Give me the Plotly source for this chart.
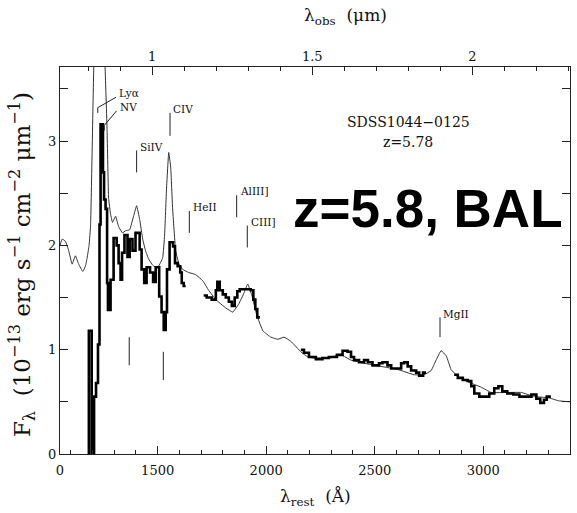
import plotly.graph_objects as go

z = 5.78

# composite (thin) spectrum
tmpl_wave = [1050, 1060, 1075, 1090, 1106, 1121, 1136, 1155, 1167, 1175,
             1184, 1191, 1206, 1227, 1257, 1267, 1274, 1283, 1292, 1306,
             1320, 1338, 1352, 1371, 1389, 1403, 1417, 1431, 1444, 1458,
             1477, 1491, 1504, 1523, 1532, 1541, 1551, 1560, 1569, 1583,
             1597, 1615, 1643, 1675, 1708, 1735, 1768, 1814, 1846, 1874,
             1897, 1915, 1934, 1957, 1985, 2022, 2054, 2082, 2114, 2160,
             2192, 2220, 2262, 2299, 2345, 2391, 2451, 2529, 2607, 2681,
             2728, 2760, 2783, 2806, 2830, 2852, 2885, 2931, 2991, 3037,
             3116, 3176, 3236, 3300, 3347, 3400]
tmpl_flux = [2.00, 2.06, 2.04, 1.95, 1.82, 1.90, 1.82, 1.75, 1.80, 1.88,
             2.00, 2.20, 3.75, 5.00, 3.75, 3.10, 2.45, 2.30, 2.22, 2.28,
             2.18, 2.12, 2.14, 2.15, 2.28, 2.38, 2.25, 2.06, 1.95, 1.87,
             1.81, 1.79, 1.80, 1.88, 2.10, 2.55, 2.89, 2.75, 2.35, 1.95,
             1.83, 1.77, 1.74, 1.72, 1.66, 1.57, 1.48, 1.40, 1.36, 1.44,
             1.54, 1.63, 1.52, 1.33, 1.18, 1.12, 1.10, 1.12, 1.08, 0.98,
             0.93, 0.92, 0.92, 0.93, 0.95, 0.90, 0.87, 0.84, 0.81, 0.76,
             0.76, 0.80, 0.90, 0.99, 0.94, 0.81, 0.74, 0.69, 0.64, 0.59,
             0.59, 0.59, 0.55, 0.54, 0.51, 0.50]

# observed (thick, binned) spectrum, four segments
obs_wave_1 = [1178, 1183, 1196, 1207, 1216, 1225, 1232, 1237, 1248, 1253,
              1260, 1267, 1271, 1283, 1297, 1311, 1320, 1329, 1336, 1347,
              1361, 1371, 1384, 1398, 1417, 1426, 1438, 1449, 1465, 1479,
              1491, 1507, 1518, 1528, 1537, 1543, 1555, 1571, 1580, 1592,
              1604, 1611, 1620, 1629]
obs_flux_1 = [0, 1.18, 0, 0.55, 0.68, 1.05, 2.2, 3.16, 2.7, 2.44,
              2.35, 1.64, 1.38, 1.67, 2.07, 2.0, 1.83, 1.67, 1.93, 2.1,
              1.89, 2.06, 1.95, 2.12, 1.96, 1.77, 1.64, 1.79, 1.74, 1.65,
              1.79, 1.51, 1.36, 1.19, 1.36, 1.77, 2.03, 1.99, 1.83, 1.80,
              1.74, 1.64, 1.61, 1.61]
obs_wave_2 = [1712, 1726, 1749, 1768, 1775, 1786, 1800, 1814, 1828, 1842,
              1855, 1867, 1878, 1906, 1929, 1941, 1950, 1959, 1971]
obs_flux_2 = [1.52, 1.50, 1.48, 1.57, 1.65, 1.57, 1.53, 1.50, 1.46, 1.42,
              1.50, 1.56, 1.58, 1.58, 1.57, 1.48, 1.39, 1.31, 1.31]
obs_wave_3 = [2160, 2174, 2197, 2229, 2259, 2289, 2326, 2352, 2375, 2391,
              2405, 2428, 2451, 2469, 2490, 2520, 2536, 2559, 2576, 2622,
              2636, 2652, 2668, 2691, 2705, 2723, 2737]
obs_flux_3 = [1.00, 0.97, 0.93, 0.91, 0.92, 0.93, 0.95, 0.99, 0.98, 0.93,
              0.90, 0.88, 0.90, 0.88, 0.85, 0.87, 0.88, 0.85, 0.82, 0.87,
              0.88, 0.84, 0.80, 0.78, 0.75, 0.78, 0.78]
obs_wave_4 = [2866, 2883, 2906, 2929, 2945, 2959, 2982, 3028, 3051, 3070,
              3088, 3111, 3139, 3167, 3222, 3245, 3263, 3280, 3293, 3312]
obs_flux_4 = [0.76, 0.73, 0.71, 0.70, 0.65, 0.58, 0.55, 0.58, 0.63, 0.65,
              0.60, 0.58, 0.57, 0.55, 0.57, 0.53, 0.49, 0.52, 0.55, 0.55]

# emission line markers
line_labels = ["Lyα", "NV", "SiIV", "CIV", "HeII", "AlIII]", "CIII]", "MgII"]
line_wave = [1224, 1254, 1403, 1557, 1646, 1864, 1913, 2801]
line_tick_lo = [3.27, 3.10, 2.70, 3.05, 2.12, 2.27, 1.98, 1.12]
line_tick_hi = [3.32, 3.15, 2.91, 3.27, 2.33, 2.48, 2.19, 1.31]
# absorption (BAL) markers
bal_wave = [1369, 1526]
bal_lo = [0.85, 0.71]
bal_hi = [1.12, 0.98]

x_range = [1050, 3400]
y_range = [0, 3.71]
bottom_tickvals = [1050, 1500, 2000, 2500, 3000]
bottom_ticktext = ["0", "1500", "2000", "2500", "3000"]
top_ticks_um = [1, 1.5, 2]
top_ticktext = ["1", "1.5", "2"]
top_minor_um = [0.8, 0.9, 1.1, 1.2, 1.3, 1.4, 1.6, 1.7, 1.8, 1.9, 2.1, 2.2, 2.3]

obs_x, obs_y = [], []
for w, f in [(obs_wave_1, obs_flux_1), (obs_wave_2, obs_flux_2),
             (obs_wave_3, obs_flux_3), (obs_wave_4, obs_flux_4)]:
    obs_x += w + [None]
    obs_y += f + [None]

serif = "DejaVu Serif"

fig = go.Figure()
fig.add_trace(go.Scatter(x=tmpl_wave, y=tmpl_flux, mode="lines",
                         line=dict(color="#333333", width=1, shape="spline", smoothing=0.3),
                         showlegend=False, hoverinfo="skip"))
fig.add_trace(go.Scatter(x=obs_x, y=obs_y, mode="lines", connectgaps=False,
                         line=dict(color="black", width=2.6, shape="hv"),
                         showlegend=False, hoverinfo="skip"))
# invisible trace on top axis
fig.add_trace(go.Scatter(x=[x_range[0]], y=[0], xaxis="x2", mode="markers",
                         marker=dict(opacity=0), showlegend=False, hoverinfo="skip"))

shapes = []
annotations = []
for name, w, lo, hi in zip(line_labels, line_wave, line_tick_lo, line_tick_hi):
    shapes.append(dict(type="line", xref="x", yref="y", x0=w, x1=w, y0=lo, y1=hi,
                       line=dict(color="#222", width=1)))
    if name in ("Lyα", "NV"):
        tx = 1308 if name == "Lyα" else 1311
        ty = hi + (0.10 if name == "Lyα" else 0.14)
        shapes.append(dict(type="line", xref="x", yref="y", x0=w, x1=tx, y0=hi, y1=ty,
                           line=dict(color="#222", width=1)))
        annotations.append(dict(x=tx + 5, y=ty - 0.04, text=name, showarrow=False,
                                xanchor="left", yanchor="bottom",
                                font=dict(family=serif, size=10.5, color="#111")))
    else:
        annotations.append(dict(x=w + 6, y=hi - 0.04, text=name, showarrow=False,
                                xanchor="left", yanchor="bottom",
                                font=dict(family=serif, size=10.5, color="#111")))
for w, lo, hi in zip(bal_wave, bal_lo, bal_hi):
    shapes.append(dict(type="line", xref="x", yref="y", x0=w, x1=w, y0=lo, y1=hi,
                       line=dict(color="#222", width=1)))

annotations += [
    dict(x=2654, y=3.18, text="SDSS1044−0125", showarrow=False,
         font=dict(family=serif, size=14, color="#111")),
    dict(x=2654, y=2.99, text="z=5.78", showarrow=False,
         font=dict(family=serif, size=14, color="#111")),
    dict(x=2746, y=2.35, text="<b>z=5.8, BAL</b>", showarrow=False,
         font=dict(family="Liberation Sans", size=53, color="black")),
    dict(xref="paper", yref="paper", x=0.5, y=-0.113, yanchor="middle",
         text="λ<sub>rest</sub>  (Å)", showarrow=False,
         font=dict(family=serif, size=17, color="#111")),
    dict(xref="paper", yref="paper", x=0.56, y=1.13, yanchor="middle",
         text="λ<sub>obs</sub>  (μm)", showarrow=False,
         font=dict(family=serif, size=17, color="#111")),
    dict(xref="paper", yref="paper", x=-0.075, y=0.49, xanchor="center",
         text="F<sub>λ</sub>  (10<sup>−13</sup> erg s<sup>−1</sup> cm<sup>−2</sup> μm<sup>−1</sup>)",
         textangle=-90, showarrow=False,
         font=dict(family=serif, size=23, color="#111")),
]

fig.update_layout(
    width=577, height=513,
    margin=dict(l=60, r=7, t=67, b=59),
    paper_bgcolor="white", plot_bgcolor="white",
    shapes=shapes, annotations=annotations,
    xaxis=dict(range=x_range, showgrid=False, zeroline=False,
               showline=True, linecolor="#222", linewidth=1, mirror=True,
               tickmode="array", tickvals=bottom_tickvals, ticktext=bottom_ticktext,
               ticks="inside", ticklen=8, tickcolor="#222", tickwidth=1,
               ticklabelstandoff=4,
               minor=dict(tickmode="linear", tick0=1000, dtick=100, ticks="inside",
                          ticklen=4, tickcolor="#222"),
               tickfont=dict(family=serif, size=13, color="#111")),
    xaxis2=dict(range=x_range, overlaying="x", side="top", anchor="y",
                showgrid=False, zeroline=False, showline=True, linecolor="#222",
                tickmode="array",
                tickvals=[u * 1e4 / (1 + z) for u in top_ticks_um],
                ticktext=top_ticktext,
                ticks="inside", ticklen=8, tickcolor="#222",
                minor=dict(tickmode="array",
                           tickvals=[u * 1e4 / (1 + z) for u in top_minor_um],
                           ticks="inside", ticklen=4, tickcolor="#222"),
                tickfont=dict(family=serif, size=13, color="#111")),
    yaxis=dict(range=y_range, showgrid=False, zeroline=False,
               showline=True, linecolor="#222", linewidth=1, mirror="allticks",
               tickvals=[0, 1, 2, 3], ticks="inside", ticklen=8, tickcolor="#222",
               minor=dict(tickmode="linear", tick0=0, dtick=0.5, ticks="inside",
                          ticklen=5, tickcolor="#222"),
               tickfont=dict(family=serif, size=13, color="#111")),
)

fig.write_html("out.html")
